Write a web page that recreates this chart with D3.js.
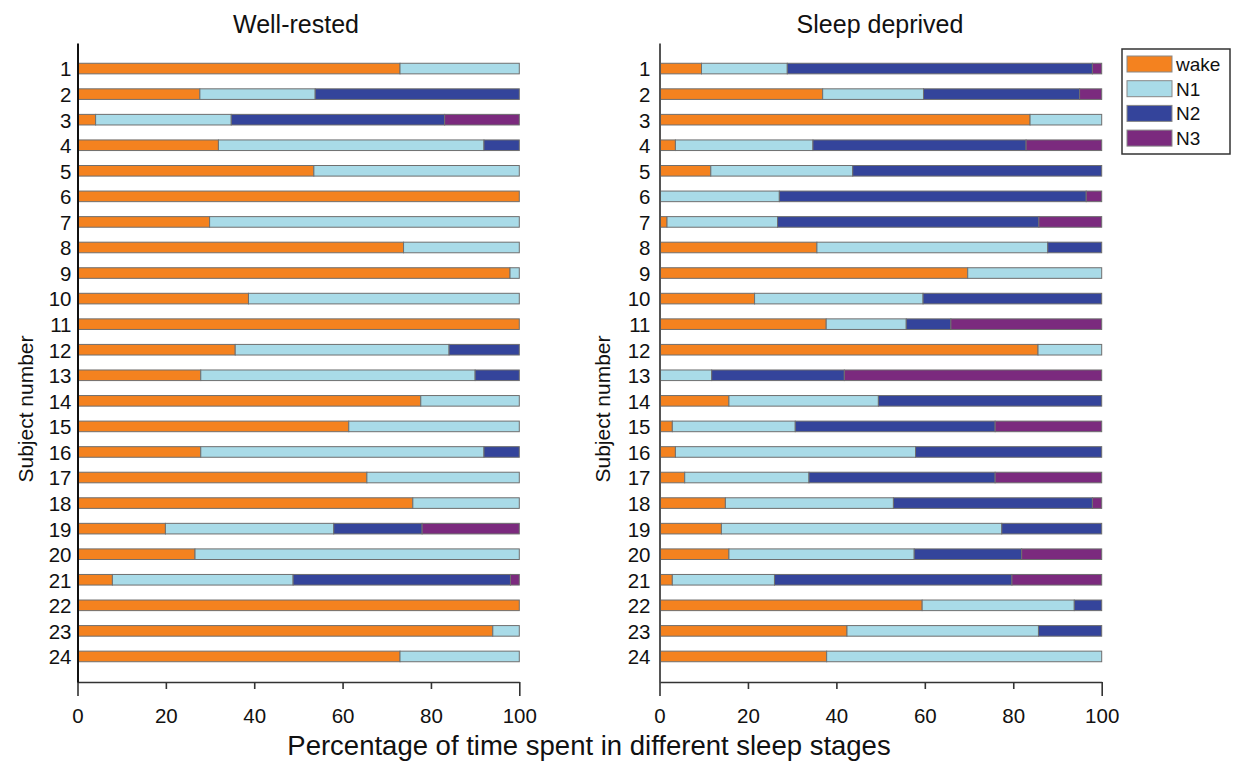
<!DOCTYPE html>
<html>
<head>
<meta charset="utf-8">
<script src="https://cdn.jsdelivr.net/npm/d3@7"></script>
<style>
  html, body { margin: 0; padding: 0; background: #fff; }
  svg { display: block; font-family: "Liberation Sans", Arial, sans-serif; }
</style>
</head>
<body>
<svg id="chart" width="1233" height="763"></svg>
<script>
// Subjects (y tick labels)
const subjects = [1,2,3,4,5,6,7,8,9,10,11,12,13,14,15,16,17,18,19,20,21,22,23,24];
const stages = ["wake", "N1", "N2", "N3"];
const xTicks = [0, 20, 40, 60, 80, 100];

// Well-rested: % of time in each stage per subject
const restedWake = [73.0,27.7,4.1,31.9,53.5,100,29.9,73.8,97.9,38.7,100,35.7,27.9,77.7,61.4,27.9,65.5,75.9,19.9,26.6,7.9,100,94.0,73.0];
const restedN1   = [27.0,26.1,30.7,60.1,46.5,0,70.1,26.2,2.1,61.3,0,48.4,62.1,22.3,38.6,64.1,34.5,24.1,38.1,73.4,40.9,0,6.0,27.0];
const restedN2   = [0,46.2,48.3,8.0,0,0,0,0,0,0,0,15.9,10.0,0,0,8.0,0,0,20.0,0,49.2,0,0,0];
const restedN3   = [0,0,16.9,0,0,0,0,0,0,0,0,0,0,0,0,0,0,0,22.0,0,2.0,0,0,0];

// Sleep deprived: % of time in each stage per subject
const deprivedWake = [9.5,36.9,83.8,3.6,11.6,0,1.7,35.6,69.7,21.5,37.7,85.6,0,15.7,2.9,3.6,5.7,14.9,14.0,15.7,2.9,59.4,42.4,37.8];
const deprivedN1   = [19.4,22.8,16.2,31.1,32.1,27.1,25.0,52.2,30.3,38.1,18.1,14.4,11.8,33.8,27.8,54.3,28.1,38.0,63.4,41.9,23.1,34.4,43.3,62.2];
const deprivedN2   = [69.0,35.3,0,48.2,56.3,69.4,59.1,12.2,0,40.4,10.1,0,30.0,50.5,45.2,42.1,42.1,45.0,22.6,24.3,53.7,6.2,14.3,0];
const deprivedN3   = [2.1,5.0,0,17.1,0,3.5,14.2,0,0,0,34.1,0,58.2,0,24.1,0,24.1,2.1,0,18.1,20.3,0,0,0];

const stageColors = ["#F4821F", "#A9DBE8", "#34449B", "#7B2A7E"];

const svg = d3.select("#chart");
const color = d3.scaleOrdinal().domain(stages).range(stageColors);

// vertical layout shared by both panels
const yTop = 43, yBottom = 682;
const y = d3.scaleLinear().domain([0, subjects.length + 1]).range([yTop, yBottom]);
const barH = 10.6;

function rowsFrom(wake, n1, n2, n3) {
  return subjects.map((s, i) => ({ subject: s, wake: wake[i], N1: n1[i], N2: n2[i], N3: n3[i] }));
}

function panel(opts) {
  const x = d3.scaleLinear().domain([0, 100]).range([opts.x0, opts.x1]);
  const g = svg.append("g");
  const stacked = d3.stack().keys(stages)(opts.rows);

  // stacked bars
  g.selectAll("g.layer")
    .data(stacked)
    .join("g")
    .attr("class", "layer")
    .attr("fill", d => color(d.key))
    .selectAll("rect")
    .data(d => d.filter(s => s[1] - s[0] > 0))
    .join("rect")
    .attr("x", d => x(d[0]))
    .attr("width", d => x(d[1]) - x(d[0]))
    .attr("y", d => y(d.data.subject) - barH / 2)
    .attr("height", barH)
    .attr("stroke", "#6f6f6f")
    .attr("stroke-width", 1);

  // x axis
  const xAxis = d3.axisBottom(x)
    .tickValues(xTicks)
    .tickFormat(d3.format("d"))
    .tickSizeOuter(0)
    .tickSizeInner(7);
  const gx = g.append("g")
    .attr("transform", `translate(0,${yBottom})`)
    .call(xAxis);
  gx.select(".domain").attr("stroke", "#333").attr("stroke-width", 1.6);
  gx.selectAll(".tick line")
    .attr("stroke", "#333")
    .attr("stroke-width", 1.6)
    .attr("y2", d => (d === 0 || d === 100) ? 14 : 7);
  gx.selectAll(".tick text")
    .attr("y", 0)
    .attr("dy", 0)
    .attr("transform", "translate(0,41)")
    .attr("font-size", 20.5)
    .attr("font-family", "Liberation Sans, Arial, sans-serif")
    .attr("fill", "#111");

  // y axis
  const yAxis = d3.axisLeft(y)
    .tickValues(subjects)
    .tickFormat(d3.format("d"))
    .tickSize(0)
    .tickPadding(opts.yPad);
  const gy = g.append("g")
    .attr("transform", `translate(${opts.x0},0)`)
    .call(yAxis);
  gy.select(".domain").attr("stroke", opts.axisColor).attr("stroke-width", 2);
  gy.selectAll(".tick text")
    .attr("font-size", 20.5)
    .attr("dy", "0.36em")
    .attr("font-family", "Liberation Sans, Arial, sans-serif")
    .attr("fill", "#111");

  // title
  g.append("text")
    .attr("x", opts.titleX)
    .attr("y", 33)
    .attr("text-anchor", "middle")
    .attr("font-size", 25)
    .attr("fill", "#111")
    .text(opts.title);

  // y label
  g.append("text")
    .attr("transform", `translate(${opts.yLabelX},${409}) rotate(-90)`)
    .attr("text-anchor", "middle")
    .attr("font-size", 21)
    .attr("fill", "#111")
    .text("Subject number");
}

panel({
  rows: rowsFrom(restedWake, restedN1, restedN2, restedN3),
  x0: 77.5, x1: 519.3, yPad: 6, axisColor: "#111",
  title: "Well-rested", titleX: 296, yLabelX: 33
});
panel({
  rows: rowsFrom(deprivedWake, deprivedN1, deprivedN2, deprivedN3),
  x0: 659.5, x1: 1101.7, yPad: 9, axisColor: "#555",
  title: "Sleep deprived", titleX: 880, yLabelX: 610
});

// shared x label
svg.append("text")
  .attr("x", 589)
  .attr("y", 755)
  .attr("text-anchor", "middle")
  .attr("font-size", 27.5)
  .attr("fill", "#111")
  .text("Percentage of time spent in different sleep stages");

// legend
const legend = svg.append("g").attr("transform", "translate(1122,49)");
legend.append("rect")
  .attr("width", 108).attr("height", 105)
  .attr("fill", "#fff").attr("stroke", "#333").attr("stroke-width", 1.5);
const items = legend.selectAll("g.item")
  .data(stages)
  .join("g")
  .attr("class", "item")
  .attr("transform", (d, i) => `translate(5,${7 + i * 24.7})`);
items.append("rect")
  .attr("width", 45).attr("height", 16)
  .attr("fill", d => color(d))
  .attr("stroke", "#888").attr("stroke-width", 1);
items.append("text")
  .attr("x", 49).attr("y", 8)
  .attr("dy", "0.36em")
  .attr("font-size", 19)
  .attr("fill", "#111")
  .text(d => d);
</script>
</body>
</html>
